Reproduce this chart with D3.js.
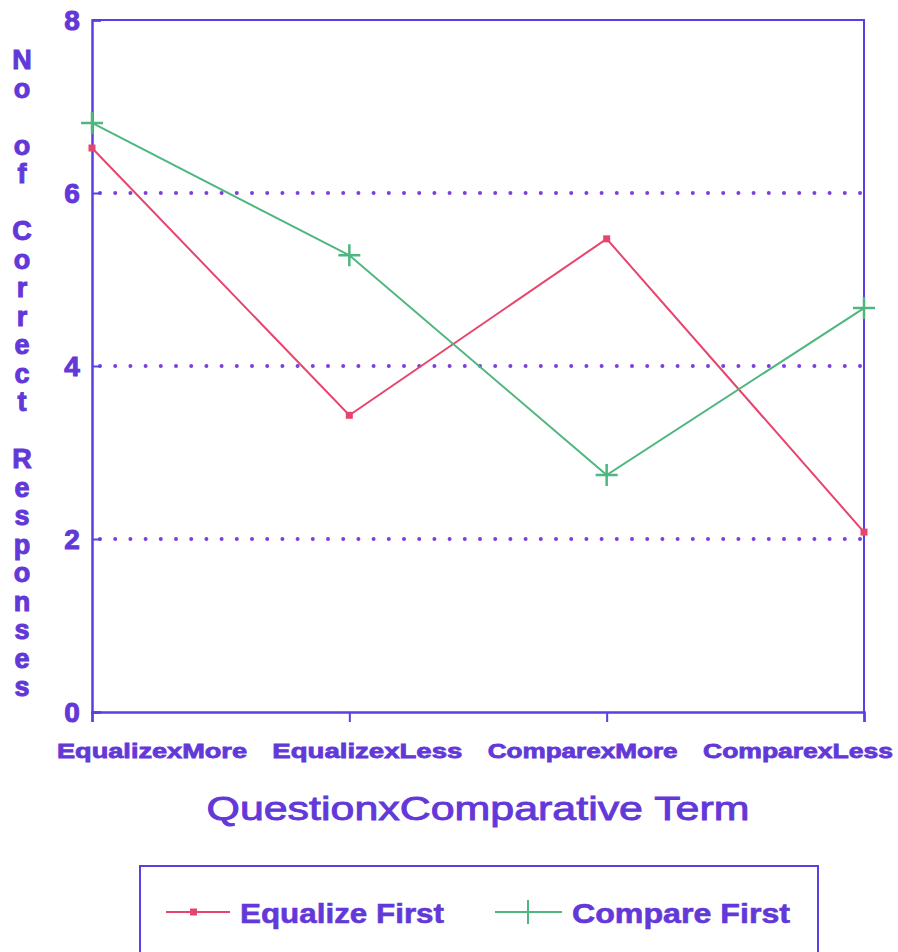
<!DOCTYPE html>
<html>
<head>
<meta charset="utf-8">
<script src="https://cdnjs.cloudflare.com/ajax/libs/d3/7.8.5/d3.min.js"></script>
<style>
  body { margin: 0; background: white; }
  text { font-family: "Liberation Sans", Arial, sans-serif; font-weight: bold; }
</style>
</head>
<body>
<div id="container"></div>
<script>
// data
let categories = ["EqualizexMore", "EqualizexLess", "ComparexMore", "ComparexLess"];
let equalizeFirst = [6.52, 3.43, 5.47, 2.08];
let compareFirst = [6.81, 5.28, 2.74, 4.67];
let yTicks = [0, 2, 4, 6, 8];
let gridValues = [2, 4, 6];
let yTitle = "No of Correct Responses";
let xTitle = "QuestionxComparative Term";
let seriesNames = ["Equalize First", "Compare First"];

let w = 898;
let h = 952;
let axisColor = "#5b3fe4";
let textColor = "#6338d8";
let red = "#e8456e";
let green = "#4fb67f";

let viz = d3.select("#container").append("svg")
    .attr("width", w)
    .attr("height", h)
    .style("background-color", "white");

let x = d3.scalePoint().domain(categories).range([92, 864]);
let xLabel = d3.scalePoint().domain(categories).range([152, 798]);
let y = d3.scaleLinear().domain([0, 8]).range([712, 20]);

// dotted grid lines
gridValues.forEach(function(v){
  viz.append("line")
    .attr("x1", 100).attr("x2", 864)
    .attr("y1", y(v)).attr("y2", y(v))
    .attr("stroke", "#7b3fdc")
    .attr("stroke-width", 4)
    .attr("stroke-linecap", "round")
    .attr("stroke-dasharray", "0 15.2");
});

// frame
viz.append("path")
  .attr("d", "M" + x.range()[0] + "," + y(8) + "H" + x.range()[1] + "V" + y(0))
  .attr("fill", "none")
  .attr("stroke", axisColor)
  .attr("stroke-width", 2);

// y axis
let yAxis = viz.append("g")
  .attr("transform", "translate(" + x.range()[0] + ",0)")
  .call(d3.axisRight(y).tickValues(yTicks).tickSize(9).tickFormat(""));
yAxis.select(".domain").attr("stroke", axisColor).attr("stroke-width", 2.5);
yAxis.selectAll(".tick line").attr("stroke", axisColor).attr("stroke-width", 2);

viz.selectAll(".ylab").data(yTicks).enter()
  .append("text")
    .attr("x", 72)
    .attr("y", d => y(d) + 10)
    .attr("text-anchor", "middle")
    .attr("font-size", 28)
    .attr("fill", textColor)
    .attr("stroke", textColor).attr("stroke-width", 1)
    .text(d => d);

// x axis
let xAxis = viz.append("g")
  .attr("transform", "translate(0," + y(0) + ")")
  .call(d3.axisBottom(x).tickSize(10).tickFormat(""));
xAxis.select(".domain").attr("stroke", axisColor).attr("stroke-width", 2.5);
xAxis.selectAll(".tick line").attr("stroke", axisColor).attr("stroke-width", 2);

viz.selectAll(".xlab").data(categories).enter()
  .append("text")
    .attr("x", d => xLabel(d))
    .attr("y", 758)
    .attr("text-anchor", "middle")
    .attr("font-size", 21)
    .attr("textLength", 190)
    .attr("lengthAdjust", "spacingAndGlyphs")
    .attr("fill", textColor)
    .attr("stroke", textColor).attr("stroke-width", 0.8)
    .text(d => d);

viz.append("text")
  .attr("x", 478)
  .attr("y", 820)
  .attr("text-anchor", "middle")
  .attr("font-size", 34)
  .style("font-weight", "normal")
  .attr("textLength", 543)
  .attr("lengthAdjust", "spacingAndGlyphs")
  .attr("fill", textColor)
  .attr("stroke", textColor).attr("stroke-width", 0.9)
  .text(xTitle);

// stacked y title
let letters = yTitle.split("");
let ly = d3.scaleLinear().domain([0, letters.length - 1]).range([60, 687]);
viz.selectAll(".ytitle").data(letters).enter()
  .append("text")
    .attr("x", 22)
    .attr("y", (d, i) => ly(i) + 9)
    .attr("text-anchor", "middle")
    .attr("font-size", 27)
    .attr("fill", textColor)
    .attr("stroke", textColor).attr("stroke-width", 1)
    .text(d => d);

// lines
let lineMaker = d3.line()
  .x((d, i) => x(categories[i]))
  .y(d => y(d));

viz.append("path")
  .datum(equalizeFirst)
  .attr("d", lineMaker)
  .attr("fill", "none")
  .attr("stroke", red)
  .attr("stroke-width", 2);

viz.append("path")
  .datum(compareFirst)
  .attr("d", lineMaker)
  .attr("fill", "none")
  .attr("stroke", green)
  .attr("stroke-width", 2);

viz.selectAll(".sq").data(equalizeFirst).enter()
  .append("rect")
    .attr("x", (d, i) => x(categories[i]) - 3.5)
    .attr("y", d => y(d) - 3.5)
    .attr("width", 7).attr("height", 7)
    .attr("fill", red);

viz.selectAll(".plus").data(compareFirst).enter()
  .append("path")
    .attr("d", "M-11,0H11M0,-11V11")
    .attr("transform", (d, i) => "translate(" + x(categories[i]) + "," + y(d) + ")")
    .attr("stroke", green)
    .attr("stroke-width", 2.5)
    .attr("fill", "none");

// legend
viz.append("rect")
  .attr("x", 140).attr("y", 866)
  .attr("width", 678).attr("height", 90)
  .attr("fill", "none")
  .attr("stroke", axisColor)
  .attr("stroke-width", 2);

let lg = viz.append("g");
lg.append("line")
  .attr("x1", 166).attr("x2", 230).attr("y1", 912).attr("y2", 912)
  .attr("stroke", red).attr("stroke-width", 2);
lg.append("rect")
  .attr("x", 190).attr("y", 908.5).attr("width", 7).attr("height", 7)
  .attr("fill", red);
lg.append("text")
  .attr("x", 240).attr("y", 923)
  .attr("font-size", 28)
  .attr("textLength", 204).attr("lengthAdjust", "spacingAndGlyphs")
  .attr("fill", textColor)
  .attr("stroke", textColor).attr("stroke-width", 0.6)
  .text(seriesNames[0]);

lg.append("line")
  .attr("x1", 495).attr("x2", 562).attr("y1", 912).attr("y2", 912)
  .attr("stroke", green).attr("stroke-width", 2);
lg.append("path")
  .attr("d", "M528,900V924")
  .attr("stroke", green).attr("stroke-width", 2);
lg.append("text")
  .attr("x", 572).attr("y", 923)
  .attr("font-size", 28)
  .attr("textLength", 218).attr("lengthAdjust", "spacingAndGlyphs")
  .attr("fill", textColor)
  .attr("stroke", textColor).attr("stroke-width", 0.6)
  .text(seriesNames[1]);
</script>
</body>
</html>
